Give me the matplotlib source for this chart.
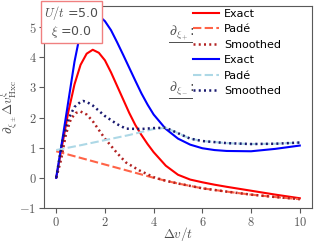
import numpy as np
import matplotlib
matplotlib.use('Agg')
import matplotlib.pyplot as plt
from matplotlib.lines import Line2D
from matplotlib.ticker import FuncFormatter

plt.rcParams['mathtext.fontset'] = 'cm'
plt.rcParams['font.family'] = 'DejaVu Sans'

# exact derivative d/dxi+  (red)
x_ex_p = [0, 0.25, 0.5, 0.66, 0.75, 1.0, 1.25, 1.5, 1.75, 2.0, 2.25, 2.5, 2.75, 3.0, 3.25, 3.5,
          3.75, 4.0, 4.5, 5.0, 5.5, 6.0, 6.5, 7.0, 8.0, 9.0, 10.0]
y_ex_p = [0, 1.1, 2.2, 2.77, 3.1, 3.75, 4.12, 4.25, 4.15, 3.9, 3.5, 3.05, 2.6, 2.15, 1.75, 1.42,
          1.12, 0.85, 0.4, 0.1, -0.06, -0.15, -0.23, -0.3, -0.43, -0.56, -0.68]

# Pade d/dxi+
x_pa_p = [0, 1, 2, 3, 4, 4.5, 5, 5.5, 6, 7, 8, 9, 10]
y_pa_p = [0.88, 0.66, 0.44, 0.22, 0.0, -0.1, -0.19, -0.27, -0.35, -0.46, -0.56, -0.64, -0.71]

# smoothed d/dxi+
x_sm_p = [0, 0.2, 0.4, 0.6, 0.8, 1.0, 1.25, 1.5, 2.0, 2.5, 2.86, 3.4, 4.0, 4.5, 5, 5.5, 6, 7, 8, 9, 10]
y_sm_p = [0, 0.6, 1.45, 1.95, 2.15, 2.2, 2.1, 1.88, 1.3, 0.82, 0.51, 0.25, 0.02, -0.1, -0.19, -0.27,
          -0.35, -0.46, -0.56, -0.64, -0.71]

# exact derivative d/dxi-  (blue)
x_ex_m = [0, 0.25, 0.5, 0.75, 1.0, 1.25, 1.5, 1.75, 2.0, 2.25, 2.5, 2.75, 3.0, 3.25, 3.5, 3.75,
          4.0, 4.5, 5.0, 5.5, 6.0, 6.5, 7.0, 8.0, 9.0, 10.0]
y_ex_m = [0, 1.25, 2.55, 3.85, 4.85, 5.3, 5.43, 5.38, 5.2, 4.9, 4.5, 4.08, 3.65, 3.22, 2.8, 2.43,
          2.1, 1.62, 1.3, 1.1, 0.98, 0.92, 0.89, 0.88, 0.96, 1.07]

# Pade d/dxi-
x_pa_m = [0, 1, 2, 3, 3.5, 4, 4.5, 5, 5.5, 6, 7, 8, 9, 10]
y_pa_m = [0.92, 1.08, 1.25, 1.42, 1.52, 1.62, 1.66, 1.48, 1.3, 1.22, 1.15, 1.12, 1.13, 1.17]

# smoothed d/dxi-
x_sm_m = [0, 0.25, 0.5, 0.75, 1.0, 1.1, 1.25, 1.5, 2.0, 2.5, 2.86, 3.5, 4.0, 4.5, 5, 5.5, 6, 7, 8, 9, 10]
y_sm_m = [0, 1.2, 1.95, 2.35, 2.52, 2.55, 2.52, 2.4, 2.05, 1.78, 1.63, 1.62, 1.65, 1.66, 1.48, 1.3,
          1.22, 1.15, 1.12, 1.13, 1.17]

labels = ['Exact', 'Padé', 'Smoothed']

fig = plt.figure(figsize=(3.19, 2.44), dpi=100)
ax = fig.add_axes([0.138, 0.148, 0.840, 0.827])

lw = 1.5
dash = (0, (4, 1.6))
dot = (0, (0.8, 1.3))
ax.plot(x_ex_p, y_ex_p, color='red', lw=lw, label=labels[0])
ax.plot(x_pa_p, y_pa_p, color='tomato', lw=lw, ls=dash, label=labels[1])
ax.plot(x_sm_p, y_sm_p, color='firebrick', lw=1.8, ls=dot, label=labels[2])
ax.plot(x_ex_m, y_ex_m, color='blue', lw=lw, label=labels[0])
ax.plot(x_pa_m, y_pa_m, color='lightblue', lw=lw, ls=dash, label=labels[1])
ax.plot(x_sm_m, y_sm_m, color='midnightblue', lw=1.8, ls=dot, label=labels[2])

ax.set_xlim(-0.5, 10.5)
ax.set_ylim(-1, 5.7)
ax.set_xticks([0, 2, 4, 6, 8, 10])
ax.set_yticks([-1, 0, 1, 2, 3, 4, 5])
fmt = FuncFormatter(lambda v, p: '$%g$' % v)
ax.xaxis.set_major_formatter(fmt)
ax.yaxis.set_major_formatter(fmt)
ax.tick_params(labelsize=9, colors='0.35', length=3.5, width=0.8, pad=2)
for s in ax.spines.values():
    s.set_color('0.35')
    s.set_linewidth(0.8)

ax.set_xlabel(r'$\Delta v/t$', fontsize=9.5, color='0.3')
ax.set_ylabel(r'$\partial_{\xi_\pm}\Delta v^{\xi}_{\rm Hxc}$', fontsize=9.5, color='0.3')
ax.xaxis.set_label_coords(0.5, -0.085)
ax.yaxis.set_label_coords(-0.09, 0.5)

ax.text(0.0, 1.01, '$U/t$ =5.0\n' + r'$\xi$ =0.0', transform=ax.transAxes, fontsize=9,
        ha='left', va='top', multialignment='center', color='0.3',
        bbox=dict(boxstyle='square,pad=0.25', fc='white', ec='lightcoral', lw=1))

leg = ax.legend(loc='upper left', bbox_to_anchor=(0.605, 0.965), bbox_transform=fig.transFigure,
                frameon=False, fontsize=8, handlelength=2.3, handletextpad=0.5,
                labelspacing=0.5, borderpad=0, borderaxespad=0)

# group labels left of the legend rows
for ytxt, sub in [(33, '+'), (89, '-')]:
    yf = 1 - ytxt / 244
    fig.text(169 / 319, yf, r'$\partial_{\xi_%s}$:' % sub, fontsize=10, va='center', ha='left', color='0.3')
    fig.add_artist(Line2D([169 / 319, 192 / 319], [yf - 9 / 244, yf - 9 / 244],
                          transform=fig.transFigure, color='0.3', lw=0.7))

fig.savefig('out.png', dpi=100)
